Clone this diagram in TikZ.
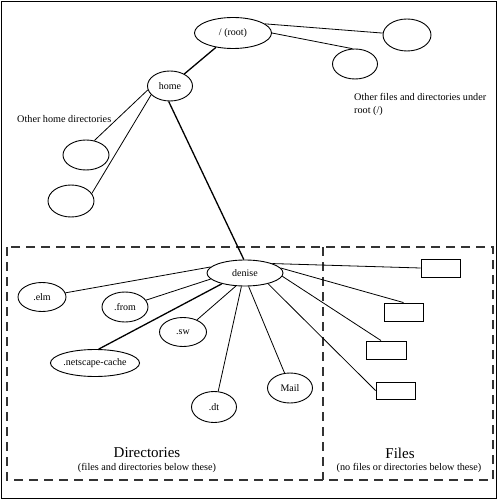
\documentclass[tikz,border=0pt]{standalone}
\usepackage{fontspec}
\setmainfont{Liberation Serif}
\usepackage{tikz}
\usetikzlibrary{positioning, shapes.geometric}

\tikzset{
  dirnode/.style={draw, ellipse, line width=0.9pt, inner sep=0pt,
                  font=\fontsize{10}{12}\selectfont},
  filenode/.style={draw, rectangle, line width=0.9pt, inner sep=0pt,
                   minimum width=39pt, minimum height=18pt},
  link/.style={line width=0.8pt},
  thicklink/.style={line width=1.3pt},
  region/.style={line width=1.1pt, dash pattern=on 9pt off 6pt, draw=black!80},
  note/.style={font=\fontsize{10.2}{13}\selectfont, inner sep=0pt}
}

\begin{document}
\begin{tikzpicture}[x=1pt, y=-1pt]
  \useasboundingbox (0,0) rectangle (499,502);
  \draw[line width=1.3pt] (1.5,1.5) rectangle (496.5,498.5);

  % the two regions
  \draw[region] (7,247) rectangle (493,480);
  \draw[region] (323,247) -- (323,480);

  % upper part of the tree
  \node[dirnode, minimum width=77pt, minimum height=31pt] (root) at (233,33) {/ (root)};
  \node[dirnode, minimum width=48pt, minimum height=32pt] (rootA) at (407,35) {};
  \node[dirnode, minimum width=45pt, minimum height=30pt] (rootB) at (355,64) {};
  \node[dirnode, minimum width=45pt, minimum height=30pt] (home) at (170,86) {home};
  \node[dirnode, minimum width=46pt, minimum height=30pt] (homeA) at (86,155) {};
  \node[dirnode, minimum width=46pt, minimum height=32pt] (homeB) at (71,201) {};

  \node[note, anchor=west] (otherhome) at (17,119) {Other home directories};
  \node[note, anchor=north west, align=left] (otherroot) at (354,93)
    {Other files and directories under\\root (/)};

  % the home directory and what lies in it
  \node[dirnode, minimum width=76pt, minimum height=26pt] (denise) at (245,273) {denise};
  \node[dirnode, minimum width=48pt, minimum height=29pt] (elm) at (42,297) {.elm};
  \node[dirnode, minimum width=46pt, minimum height=30pt] (from) at (125,307) {.from};
  \node[dirnode, minimum width=47pt, minimum height=29pt] (sw) at (183,332) {.sw};
  \node[dirnode, minimum width=83pt, minimum height=27pt] (netscape) at (95,363) {.netscape-cache};
  \node[dirnode, minimum width=45pt, minimum height=31pt] (dt) at (214,407) {.dt};
  \node[dirnode, minimum width=45pt, minimum height=30pt] (mail) at (290,388) {Mail};

  \node[filenode] (fileA) at (440.5,268) {};
  \node[filenode] (fileB) at (403.5,312) {};
  \node[filenode, minimum width=40pt] (fileC) at (386,350) {};
  \node[filenode, minimum height=17pt] (fileD) at (395.5,390.5) {};

  % region titles
  \node[font=\fontsize{15}{17}\selectfont, inner sep=0pt] (dirtitle) at (147,453) {Directories};
  \node[note, below=5pt of dirtitle] (dirsub) {(files and directories below these)};
  \node[font=\fontsize{15}{17}\selectfont, inner sep=0pt] (filetitle) at (400,453) {Files};
  \node[note, below=5pt of filetitle, xshift=9pt] (filesub) {(no files or directories below these)};

  % connectors
  \draw[thicklink] (root) -- (home);
  \draw[link] (root.16) -- (rootA);
  \draw[link] (root.east) -- (rootB.100);
  \draw[link] (home.190) -- (homeA.60);
  \draw[link] (home.205) -- (homeB.20);
  \draw[thicklink] (home.265) -- (denise.95);

  \draw[link] (denise.170) -- (elm);
  \draw[link] (denise.190) -- (from);
  \draw[thicklink] (denise.205) -- (netscape.75);
  \draw[link] (denise.235) -- (sw);
  \draw[link] (denise.255) -- (dt.75);
  \draw[link] (denise.285) -- (mail.110);

  \draw[link] (denise.19) -- (fileA.west);
  \draw[link] (denise.8) -- (fileB.north);
  \draw[link] (denise.-5) -- ([xshift=-5pt]fileC.north);
  \draw[link] (denise.-25) -- (fileD.west);
\end{tikzpicture}
\end{document}
